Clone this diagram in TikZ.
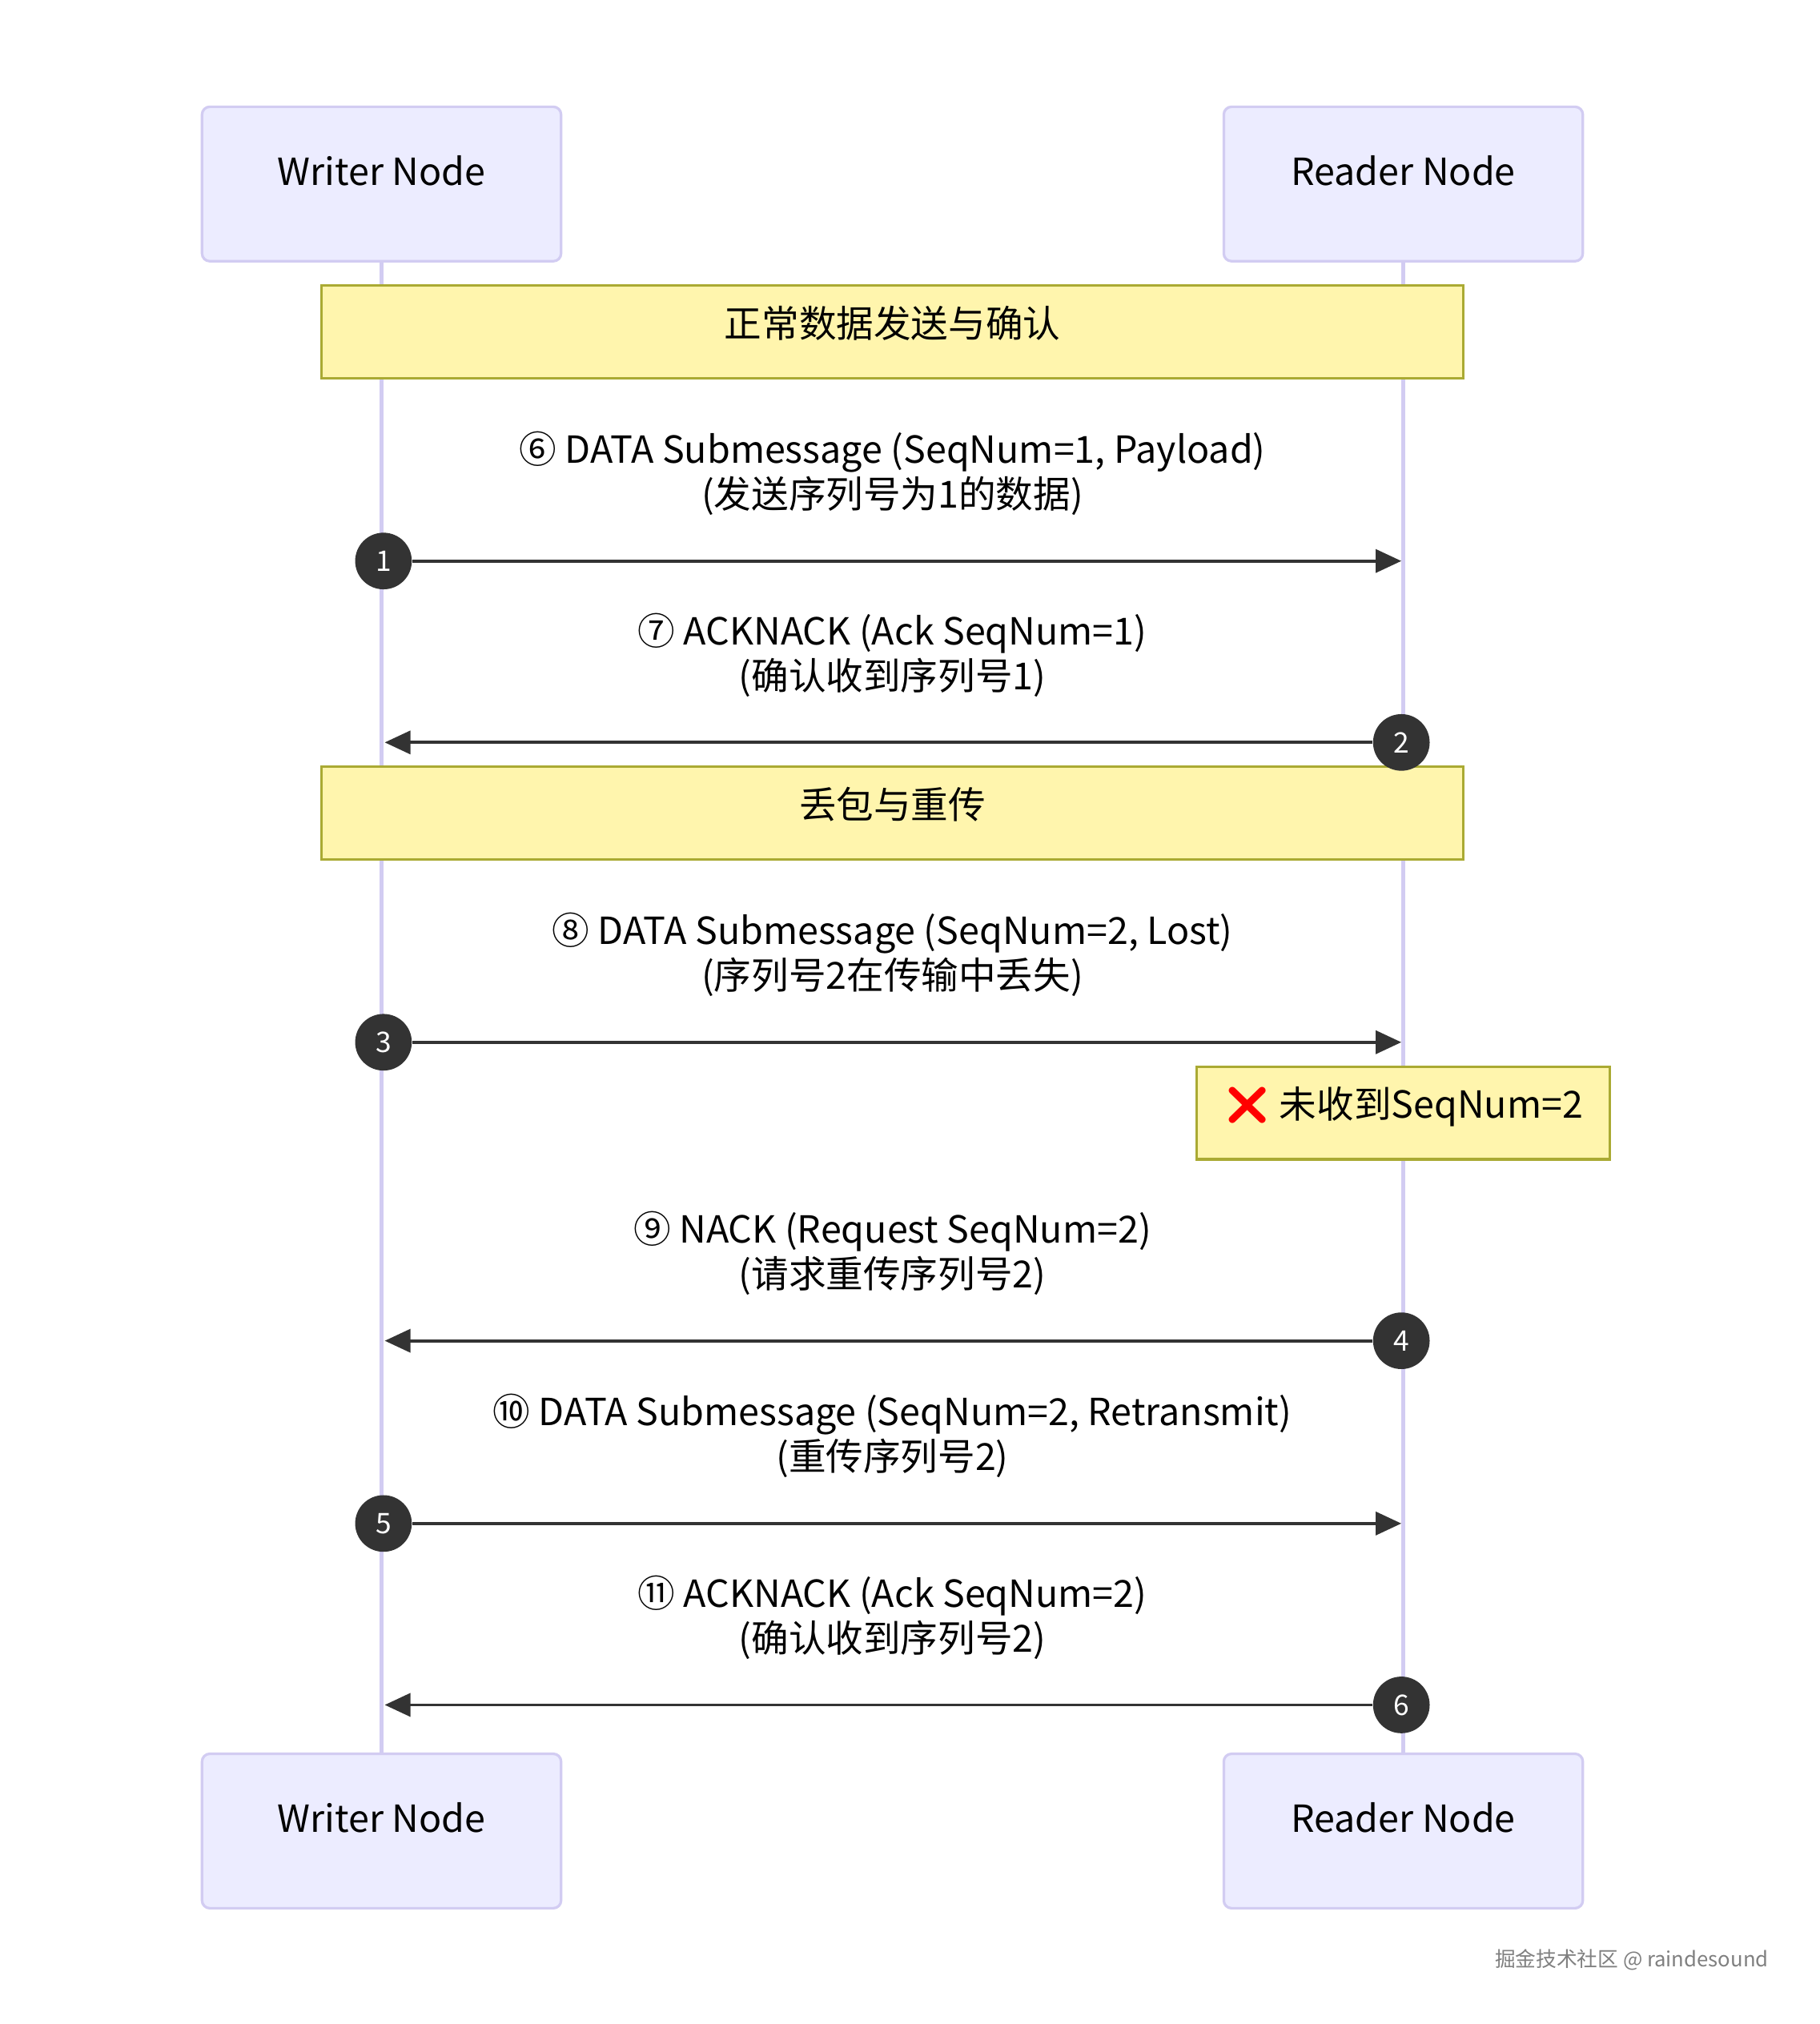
\documentclass[tikz,border=0pt]{standalone}
\usepackage{fontspec}
\usetikzlibrary{arrows.meta}
\newfontfamily\cjk{Noto Sans CJK SC}
\newfontfamily\emo{Noto Emoji}
\definecolor{actorfill}{HTML}{ECECFF}
\definecolor{actorline}{HTML}{D2CCF2}
\definecolor{notefill}{HTML}{FFF5AD}
\definecolor{noteline}{HTML}{AAAA33}
\definecolor{msgline}{HTML}{333333}
\begin{document}
\begin{tikzpicture}[x=0.5pt,y=-0.5pt,
  actor/.style={draw=actorline,line width=1pt,fill=actorfill,rounded corners=3pt,minimum width=139.5pt,minimum height=60pt,font=\cjk\fontsize{14.5}{17.5}\selectfont,text height=10pt,text depth=9pt},
  note/.style={draw=noteline,line width=1pt,fill=notefill,minimum height=36pt,font=\cjk\fontsize{14.5}{17.5}\selectfont,text height=10pt,text depth=6pt},
  msg/.style={align=center,font=\cjk\fontsize{14.5}{17.5}\selectfont},
  seq/.style={circle,fill=msgline,minimum size=22pt,inner sep=0pt,text=white,font=\cjk\fontsize{11}{13}\selectfont},
  arr/.style={draw=msgline,line width=1.2pt,-{Triangle[length=10pt,width=9pt]}},
  life/.style={draw=actorline,line width=1.5pt}]
\path[use as bounding box,fill=white] (0,0) rectangle (1414,1573);
\node[actor] (wt) at (296.5,143) {Writer Node};
\node[actor] (rt) at (1090.5,143) {Reader Node};
\node[actor] (wb) at (296.5,1423) {Writer Node};
\node[actor] (rb) at (1090.5,1423) {Reader Node};
\draw[life] (wt.south) -- (wb.north);
\draw[life] (rt.south) -- (rb.north);
\node[note,minimum width=443.5pt] (n1) at (693.5,258) {正常数据发送与确认};
\node[note,minimum width=443.5pt] (n2) at (693.5,632) {丢包与重传};
\node[note,minimum width=160.5pt] (n3) at (1090.5,865) {{\emo\textcolor{red}{❌}} 未收到SeqNum=2};
\node[msg] (m1) at (693.5,368) {⑥ DATA Submessage (SeqNum=1, Payload)\\(发送序列号为1的数据)};
\node[msg] (m2) at (693.5,509) {⑦ ACKNACK (Ack SeqNum=1)\\(确认收到序列号1)};
\node[msg] (m3) at (693.5,742) {⑧ DATA Submessage (SeqNum=2, Lost)\\(序列号2在传输中丢失)};
\node[msg] (m4) at (693.5,974) {⑨ NACK (Request SeqNum=2)\\(请求重传序列号2)};
\node[msg] (m5) at (693.5,1116) {⑩ DATA Submessage (SeqNum=2, Retransmit)\\(重传序列号2)};
\node[msg] (m6) at (693.5,1257) {⑪ ACKNACK (Ack SeqNum=2)\\(确认收到序列号2)};
\coordinate (e1) at (1089,436);
\coordinate (e2) at (299,577);
\coordinate (e3) at (1089,810);
\coordinate (e4) at (299,1042);
\coordinate (e5) at (1089,1184);
\coordinate (e6) at (299,1325);
\node[seq] (s1) at (298,436) {1};
\node[seq] (s2) at (1089,577) {2};
\node[seq] (s3) at (298,810) {3};
\node[seq] (s4) at (1089,1042) {4};
\node[seq] (s5) at (298,1184) {5};
\node[seq] (s6) at (1089,1325) {6};
\draw[arr] (s1) -- (e1);
\draw[arr] (s2) -- (e2);
\draw[arr] (s3) -- (e3);
\draw[arr] (s4) -- (e4);
\draw[arr] (s5) -- (e5);
\draw[arr] (s6) -- (e6);
\node[font=\cjk\fontsize{8}{10}\selectfont,text=gray] (wm) at (1268,1523) {掘金技术社区 @ raindesound};
\end{tikzpicture}
\end{document}
